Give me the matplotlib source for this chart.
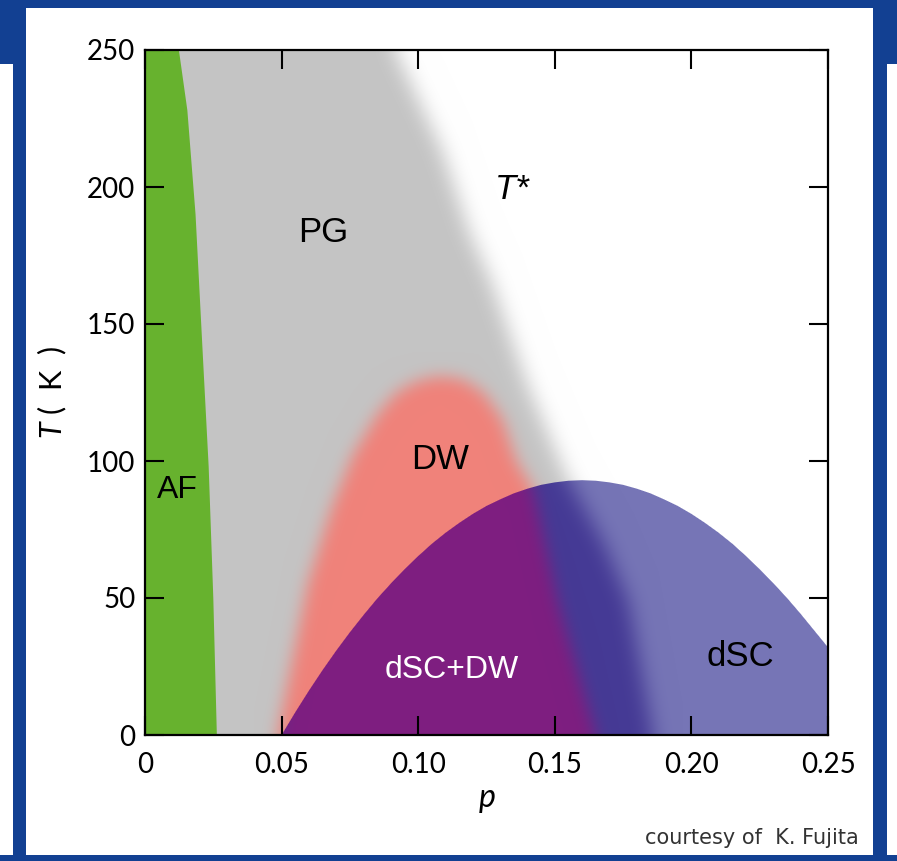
import numpy as np
import matplotlib
matplotlib.use("Agg")
import matplotlib.pyplot as plt
from matplotlib.path import Path
from matplotlib.patches import Rectangle

plt.rcParams["font.family"] = ["Lato", "DejaVu Sans"]
plt.rcParams["mathtext.fontset"] = "custom"
plt.rcParams["mathtext.rm"] = "Lato"
plt.rcParams["mathtext.it"] = "Lato:italic"

# phase boundaries (hole doping p, temperature T in K)
af_p = [0.0124, 0.0155, 0.0185, 0.0213, 0.0233, 0.0250, 0.0263]
af_T = [250, 228, 190, 136, 98, 50, 0]

tstar_p = [0.0916, 0.109, 0.119, 0.127, 0.140, 0.154, 0.168, 0.177, 0.186]
tstar_T = [250, 213, 183, 165, 128, 95, 70, 49, 0]

dw_p = [0.0485, 0.0595, 0.068, 0.076, 0.085, 0.092, 0.099, 0.107, 0.116, 0.124, 0.131, 0.136, 0.142, 0.151, 0.165]
dw_T = [0, 55, 82, 102, 117, 125, 129, 131, 130, 125, 115, 100, 90, 49, 0]

# superconducting dome Tc(p)
sc_p = [0.050, 0.055, 0.060, 0.065, 0.070, 0.075, 0.080, 0.085, 0.090, 0.095,
        0.100, 0.105, 0.110, 0.115, 0.120, 0.125, 0.130, 0.135, 0.140, 0.145,
        0.150, 0.155, 0.160, 0.165, 0.170, 0.175, 0.180, 0.185, 0.190, 0.195,
        0.200, 0.205, 0.210, 0.215, 0.220, 0.225, 0.230, 0.235, 0.240, 0.245, 0.250]
sc_T = [0, 8.3, 16.2, 23.7, 30.8, 37.5, 43.8, 49.8, 55.3, 60.5,
        65.3, 69.8, 73.8, 77.4, 80.7, 83.6, 86.0, 88.2, 89.9, 91.3,
        92.2, 92.8, 93.0, 92.8, 92.2, 91.3, 89.9, 88.2, 86.0, 83.6,
        80.7, 77.4, 73.8, 69.8, 65.3, 60.5, 55.4, 50.0, 44.2, 38.1, 32.0]

xticks = [0, 0.05, 0.10, 0.15, 0.20, 0.25]
xlabels = ["0", "0.05", "0.10", "0.15", "0.20", "0.25"]
yticks = [0, 50, 100, 150, 200, 250]

# region colours
c_white = np.array([255, 255, 255]) / 255
c_gray = np.array([196, 196, 196]) / 255
c_pink = np.array([240, 130, 122]) / 255
c_green = np.array([103, 178, 46]) / 255
c_purple = np.array([126, 30, 128]) / 255
c_navy = np.array([69, 58, 149]) / 255
c_lav = np.array([118, 117, 182]) / 255


def blur(a, sigma):
    r = int(3 * sigma)
    k = np.exp(-0.5 * (np.arange(-r, r + 1) / sigma) ** 2)
    k /= k.sum()
    a = np.pad(a, r, mode="edge")
    a = np.apply_along_axis(lambda v: np.convolve(v, k, mode="valid"), 0, a)
    a = np.apply_along_axis(lambda v: np.convolve(v, k, mode="valid"), 1, a)
    return a


# raster of the phase diagram, one cell per output pixel
nx, ny = 683, 685
dp, dT = 0.25 / nx, 250 / ny
p = (np.arange(nx) + 0.5) * dp
T = (np.arange(ny) + 0.5) * dT
P, TT = np.meshgrid(p, T)

pg = (P < np.interp(TT, tstar_T[::-1], tstar_p[::-1])).astype(float)
dw_path = Path(np.column_stack([dw_p, dw_T]))
dw = dw_path.contains_points(np.column_stack([P.ravel(), TT.ravel()])).reshape(P.shape).astype(float)

# soft (antialiased) coverage for the sharp edges, in pixel units
tc = np.interp(p, sc_p, sc_T, left=-20)
slope = np.gradient(tc / dT, p / dp)
sc = np.clip((tc[None, :] - TT) / dT / np.sqrt(1 + slope[None, :] ** 2) + 0.5, 0, 1)
paf = np.interp(T, af_T[::-1], af_p[::-1])
slope_af = np.gradient(paf / dp, T / dT)
af = np.clip((paf[:, None] - P) / dp / np.sqrt(1 + slope_af[:, None] ** 2) + 0.5, 0, 1)

g = blur(pg, 10)[..., None]
d = blur(dw, 8)[..., None]

outside = c_white * (1 - g) + c_gray * g
outside = outside * (1 - d) + c_pink * d
inside = c_lav * (1 - g) + c_navy * g
inside = inside * (1 - d) + c_purple * d
img = outside * (1 - sc[..., None]) + inside * sc[..., None]
img = img * (1 - af[..., None]) + c_green * af[..., None]

fig = plt.figure(figsize=(8.97, 8.61), dpi=100, facecolor="#124092")
W, H = 897, 861
fig.add_artist(Rectangle((26 / W, 6 / H), 847 / W, 847 / H, transform=fig.transFigure,
                         facecolor="white", edgecolor="none", zorder=-2))
fig.add_artist(Rectangle((0, 6 / H), 13 / W, 791 / H, transform=fig.transFigure,
                         facecolor="white", edgecolor="none", zorder=-2))
fig.add_artist(Rectangle((887 / W, 6 / H), 10 / W, 791 / H, transform=fig.transFigure,
                         facecolor="white", edgecolor="none", zorder=-2))

ax = fig.add_axes([145 / W, 126 / H, 683 / W, 685 / H])
ax.imshow(img, extent=[0, 0.25, 0, 250], origin="lower", aspect="auto", interpolation="none")
ax.set_xlim(0, 0.25)
ax.set_ylim(0, 250)

ax.set_xticks(xticks)
ax.set_xticklabels(xlabels)
ax.set_yticks(yticks)
ax.tick_params(direction="in", length=14, width=1.5, top=True, right=True, labelsize=20)
ax.tick_params(axis="x", pad=12)
ax.tick_params(axis="y", pad=7)
for s in ax.spines.values():
    s.set_linewidth(1.6)

ax.set_xlabel("$p$", fontsize=23)
ax.xaxis.set_label_coords(0.5, -0.095)
ax.xaxis.label.set_verticalalignment("center")
ax.set_ylabel("$T$ (  K  )", fontsize=22)
ax.yaxis.set_label_coords(-0.135, 0.5)
ax.yaxis.label.set_verticalalignment("center")

lab = dict(family=["Liberation Sans", "DejaVu Sans"], ha="center", va="center", zorder=5)
ax.text(0.0653, 183.5, "PG", fontsize=25, **lab)
ax.text(0.1343, 199, "T*", fontsize=25, fontstyle="italic", **lab)
ax.text(0.0117, 89.4, "AF", fontsize=23, **lab)
ax.text(0.108, 100.4, "DW", fontsize=25, **lab)
ax.text(0.1124, 23.7, "dSC+DW", fontsize=23, color="white", **lab)
ax.text(0.218, 28.5, "dSC", fontsize=25, **lab)

fig.text(859 / W, 1 - 838 / H, "courtesy of  K. Fujita", fontsize=15, color="#333333",
         family=["DejaVu Sans"], ha="right", va="center")

fig.savefig("out.png", dpi=100, facecolor=fig.get_facecolor())
